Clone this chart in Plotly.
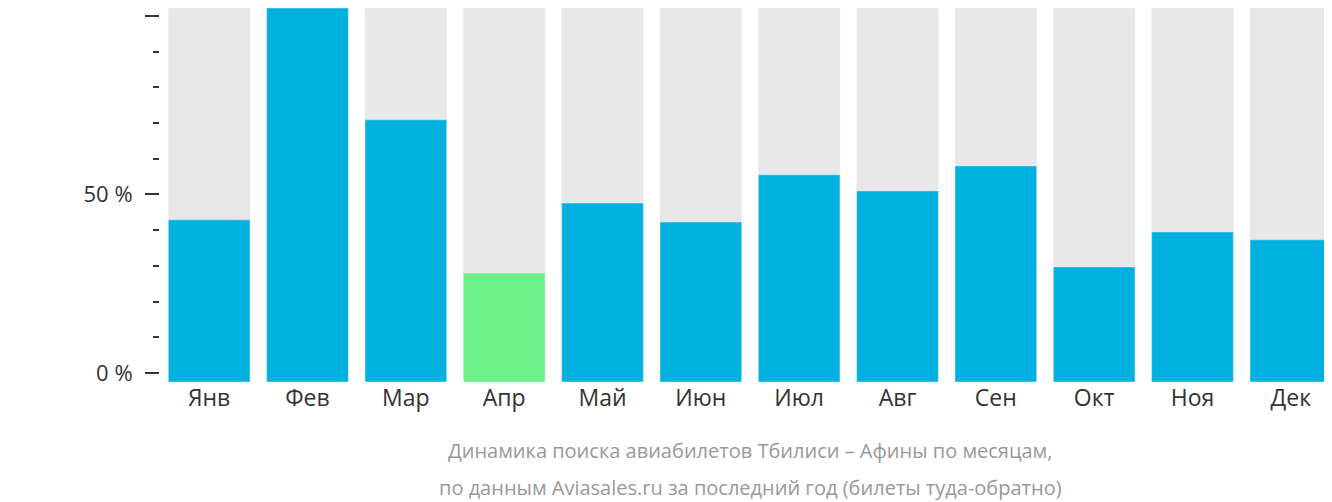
import plotly.graph_objects as go

months = ["Янв","Фев","Мар","Апр","Май","Июн","Июл","Авг","Сен","Окт","Ноя","Дек"]
values = [42.9, 102.2, 70.9, 28.0, 47.6, 42.3, 55.5, 51.0, 58.0, 29.7, 39.5, 37.3]
background = [102.2]*12
colors = ["#6cf087" if m == "Апр" else "#00b0de" for m in months]
base_val = -2.5

fig = go.Figure()
fig.add_bar(x=months, y=[b - base_val for b in background], base=base_val,
            marker_color="#e8e8e8", hoverinfo="skip")
fig.add_bar(x=months, y=[v - base_val for v in values], base=base_val,
            marker_color=colors)
fig.update_layout(
    width=1332, height=502, barmode="overlay", bargap=0.17,
    margin=dict(l=152, r=0, t=0, b=128),
    plot_bgcolor="white", paper_bgcolor="white", showlegend=False,
    font=dict(family="Open Sans", color="#333", size=22),
)
fig.update_xaxes(showline=False, ticks="", automargin=False,
                 tickfont=dict(size=23, color="#333"))
fig.update_yaxes(range=[base_val, 102.2], tickvals=[0, 50, 100], automargin=False,
                 ticktext=["0 %", "50 %", "100 %"], showgrid=False, zeroline=False,
                 ticks="outside", ticklen=14, tickcolor="#333", tickwidth=2,
                 ticklabelstandoff=8, tickfont=dict(size=22, color="#333"),
                 minor=dict(tickvals=[10,20,30,40,60,70,80,90], ticks="outside",
                            ticklen=6, tickcolor="#333", tickwidth=2))
fig.add_annotation(text="Динамика поиска авиабилетов Тбилиси – Афины по месяцам,",
                   xref="paper", yref="paper", x=0.5, y=-0.184, yanchor="middle",
                   showarrow=False, font=dict(size=20, color="#999"))
fig.add_annotation(text="по данным Aviasales.ru за последний год (билеты туда-обратно)",
                   xref="paper", yref="paper", x=0.5, y=-0.283, yanchor="middle",
                   showarrow=False, font=dict(size=20, color="#999"))
fig.write_html("out.html")
